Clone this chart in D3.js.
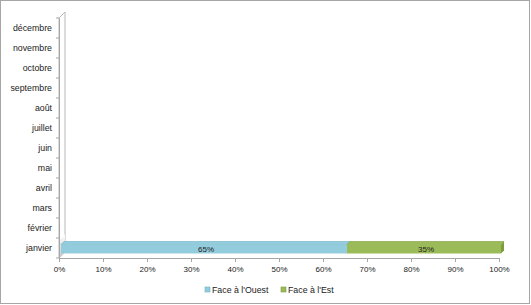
<!DOCTYPE html>
<html>
<head>
<meta charset="utf-8">
<script src="https://cdn.jsdelivr.net/npm/d3@7"></script>
<style>
  body { margin: 0; background: #fff; }
  text { font-family: "Liberation Sans", sans-serif; font-size: 8.8px; fill: #222; }
  .xt text { font-size: 8px; }
</style>
</head>
<body>
<div id="chart"></div>
<script>
// data
const months = ["janvier", "février", "mars", "avril", "mai", "juin",
  "juillet", "août", "septembre", "octobre", "novembre", "décembre"];
const seriesNames = ["Face à l'Ouest", "Face à l'Est"];
const west = [0.65, 0, 0, 0, 0, 0, 0, 0, 0, 0, 0, 0];
const east = [0.35, 0, 0, 0, 0, 0, 0, 0, 0, 0, 0, 0];
const xTicks = [0, 0.1, 0.2, 0.3, 0.4, 0.5, 0.6, 0.7, 0.8, 0.9, 1];

// chart properties
const W = 531, H = 305;
const LEFT = 59, RIGHT = 499, TOP = 18, BOTTOM = 258;
const DEPTH = 6; // 3d wall depth
const BAR_D = 3; // bar depth offset
const colors = ["#93cddd", "#9bbb59"];
const darker = ["#6fb0c2", "#7d9c3c"];

const svg = d3.select("#chart").append("svg")
  .attr("width", W).attr("height", H);

// outer frame
svg.append("rect")
  .attr("x", 0.5).attr("y", 0.5)
  .attr("width", W - 2).attr("height", H - 2)
  .attr("fill", "#fff").attr("stroke", "#a6a6a6");

const xScale = d3.scaleLinear().domain([0, 1]).range([LEFT, RIGHT]);
const yScale = d3.scaleBand().domain(months).range([BOTTOM, TOP]);

// shading gradient for the wall bottom
const defs = svg.append("defs");
const grad = defs.append("linearGradient").attr("id", "wallShade")
  .attr("x1", 0).attr("y1", 0).attr("x2", 0).attr("y2", 1);
grad.append("stop").attr("offset", "0%").attr("stop-color", "#fff");
grad.append("stop").attr("offset", "100%").attr("stop-color", "#c8c8c8");

// side wall
svg.append("path")
  .attr("d", `M${LEFT},${TOP} L${LEFT + DEPTH},${TOP - DEPTH} L${LEFT + DEPTH},${BOTTOM - DEPTH} L${LEFT},${BOTTOM} Z`)
  .attr("fill", "#fff").attr("stroke", "#b8b8b8").attr("stroke-width", 1);
svg.append("path")
  .attr("d", `M${LEFT + 0.5},${BOTTOM - 18} L${LEFT + DEPTH},${BOTTOM - 18 - DEPTH} L${LEFT + DEPTH},${BOTTOM - DEPTH} L${LEFT + 0.5},${BOTTOM} Z`)
  .attr("fill", "url(#wallShade)");

// y axis
const yAxis = d3.axisLeft(yScale).tickSize(0).tickPadding(7);
const gy = svg.append("g").attr("transform", `translate(${LEFT},0)`).call(yAxis);
gy.select(".domain").attr("stroke", "#a6a6a6");
gy.selectAll("text").attr("dy", "0.32em");
// tick marks at category boundaries
svg.append("g").selectAll("line")
  .data(d3.range(months.length + 1))
  .join("line")
  .attr("x1", LEFT - 3).attr("x2", LEFT)
  .attr("y1", i => BOTTOM - i * yScale.step())
  .attr("y2", i => BOTTOM - i * yScale.step())
  .attr("stroke", "#a6a6a6");

// x axis
const xAxis = d3.axisBottom(xScale).tickValues(xTicks)
  .tickFormat(d3.format(".0%")).tickSize(4).tickPadding(4);
const gx = svg.append("g").attr("class", "xt").attr("transform", `translate(0,${BOTTOM})`).call(xAxis);
gx.select(".domain").attr("stroke", "#a6a6a6");
gx.selectAll(".tick line").attr("stroke", "#a6a6a6");
gx.selectAll("text").attr("fill", "#222");

// stacked bars
const rows = months.map((m, i) => ({ month: m, west: west[i], east: east[i] }));
const stack = d3.stack().keys(["west", "east"])(rows);
const barH = 9;

stack.forEach((layer, si) => {
  const g = svg.append("g");
  layer.forEach(d => {
    if (d[1] - d[0] <= 0) return;
    const x0 = xScale(d[0]) + 2, x1 = xScale(d[1]) + 2;
    const yc = yScale(d.data.month) + yScale.bandwidth() / 2;
    const y0 = yc - barH / 2 + 1;
    // top face
    g.append("path")
      .attr("d", `M${x0},${y0} L${x0 + BAR_D},${y0 - BAR_D} L${x1 + BAR_D},${y0 - BAR_D} L${x1},${y0} Z`)
      .attr("fill", colors[si]).attr("stroke", darker[si]).attr("stroke-width", 0.6);
    // front face
    g.append("rect")
      .attr("x", x0).attr("y", y0)
      .attr("width", x1 - x0).attr("height", barH)
      .attr("fill", colors[si]);
    // right side
    if (si === stack.length - 1) {
      g.append("path")
        .attr("d", `M${x1},${y0} L${x1 + BAR_D},${y0 - BAR_D} L${x1 + BAR_D},${y0 + barH - BAR_D} L${x1},${y0 + barH} Z`)
        .attr("fill", darker[si]);
    }
    g.append("text")
      .attr("x", (x0 + x1) / 2 + 2).attr("y", yc + 1)
      .attr("text-anchor", "middle").attr("dy", "0.35em")
      .style("font-size", "8px")
      .text(d3.format(".0%")(d[1] - d[0]));
  });
});

// legend
const legendX = [205, 281];
const lg = svg.append("g").selectAll("g").data(seriesNames).join("g")
  .attr("transform", (d, i) => `translate(${legendX[i]},290)`);
lg.append("rect").attr("x", 0).attr("y", -3).attr("width", 5).attr("height", 5)
  .attr("fill", (d, i) => colors[i]).attr("stroke", (d, i) => darker[i]).attr("stroke-width", 0.6);
lg.append("text").attr("x", 7).attr("y", 0).attr("dy", "0.32em").text(d => d);
</script>
</body>
</html>
